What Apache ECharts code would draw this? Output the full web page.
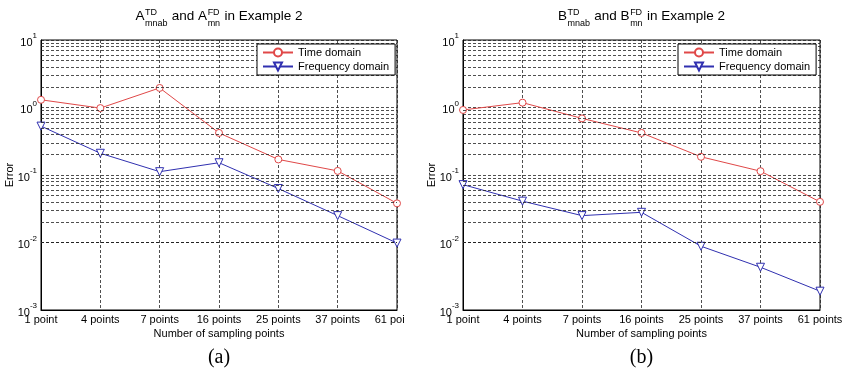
<!DOCTYPE html>
<html>
<head>
<meta charset="utf-8">
<script src="https://cdn.jsdelivr.net/npm/echarts@6/dist/echarts.min.js"></script>
<style>
  html, body { margin: 0; padding: 0; background: #fff; }
  #wrap { position: relative; width: 843px; height: 375px; overflow: hidden; background: #fff; }
  #ca { position: absolute; left: 0; top: 0; width: 405px; height: 375px; overflow: hidden; }
  #cb { position: absolute; left: 421px; top: 0; width: 422px; height: 375px; overflow: hidden; background: #fff; }
</style>
</head>
<body>
<div id="wrap"><div id="ca"></div><div id="cb"></div></div>
<script>
// ---- data ----
const categories = ['1 point', '4 points', '7 points', '16 points', '25 points', '37 points', '61 points'];
const timeA = [1.3, 0.98, 1.95, 0.42, 0.17, 0.115, 0.038];
const freqA = [0.53, 0.21, 0.112, 0.152, 0.063, 0.025, 0.0098];
const timeB = [0.92, 1.18, 0.69, 0.42, 0.186, 0.114, 0.040];
const freqB = [0.072, 0.041, 0.025, 0.028, 0.0088, 0.0043, 0.0019];
const seriesNames = ['Time domain', 'Frequency domain'];
const yMin = 0.001, yMax = 10;
const minorTicks = [
  0.002, 0.003, 0.004, 0.005, 0.006, 0.007, 0.008, 0.009,
  0.02, 0.03, 0.04, 0.05, 0.06, 0.07, 0.08, 0.09,
  0.2, 0.3, 0.4, 0.5, 0.6, 0.7, 0.8, 0.9,
  2, 3, 4, 5, 6, 7, 8, 9
];
const titleA = [['A'], ['TD', 'mnab'], [' and A'], ['FD', 'mn'], [' in Example 2']];
const titleB = [['B'], ['TD', 'mnab'], [' and B'], ['FD', 'mn'], [' in Example 2']];
const xName = 'Number of sampling points';
const yName = 'Error';

const FONT = '"Liberation Sans", Arial, sans-serif';
const RED = '#e04848';
const BLUE = '#3030b0';
const GRIDC = '#222';

const mctx = document.createElement('canvas').getContext('2d');
function tw(t, size) { mctx.font = size + 'px ' + FONT; return mctx.measureText(t).width; }

function titleGraphic(parts, cx) {
  const main = 13.5, small = 9;
  let total = 0;
  parts.forEach(p => {
    if (p.length === 1) total += tw(p[0], main);
    else total += Math.max(tw(p[0], small), tw(p[1], small)) + 1;
  });
  let x = cx - total / 2;
  const els = [];
  parts.forEach(p => {
    if (p.length === 1) {
      els.push({ type: 'text', style: { text: p[0], x: x, y: 9, font: main + 'px ' + FONT, fill: '#000', textVerticalAlign: 'top', verticalAlign: 'top' } });
      x += tw(p[0], main);
    } else {
      els.push({ type: 'text', style: { text: p[0], x: x + 0.5, y: 8, font: small + 'px ' + FONT, fill: '#000', textVerticalAlign: 'top', verticalAlign: 'top' } });
      els.push({ type: 'text', style: { text: p[1], x: x + 0.5, y: 19, font: small + 'px ' + FONT, fill: '#000', textVerticalAlign: 'top', verticalAlign: 'top' } });
      x += Math.max(tw(p[0], small), tw(p[1], small)) + 1;
    }
  });
  return els;
}

function makeOption(tData, fData, titleParts, grid, label) {
  const cx = grid.left + (grid.plotW) / 2;
  const dotted = { color: GRIDC, width: 0.8, type: [3, 2] };
  return {
    animation: false,
    backgroundColor: '#fff',
    grid: {
      left: grid.left, right: grid.right, top: 40, bottom: 65,
      containLabel: false, outerBoundsMode: 'none',
      show: true, borderColor: '#000', borderWidth: 1, backgroundColor: 'transparent'
    },
    legend: {
      orient: 'vertical',
      left: grid.legendLeft, top: 44,
      data: seriesNames,
      backgroundColor: '#fff', borderColor: '#000', borderWidth: 1,
      padding: [3, 6, 3, 5], itemGap: 3, itemWidth: 30, itemHeight: 10,
      textStyle: { fontFamily: FONT, fontSize: 11, color: '#000' },
      z: 10
    },
    xAxis: {
      type: 'category', data: categories, boundaryGap: false,
      axisLine: { show: true, lineStyle: { color: '#000', width: 1 } },
      axisTick: { show: false },
      axisLabel: { interval: 0, color: '#000', fontFamily: FONT, fontSize: 11, margin: 4, hideOverlap: false, showMinLabel: true, showMaxLabel: true },
      splitLine: { show: true, lineStyle: dotted },
      name: xName, nameLocation: 'middle', nameGap: 18, nameMoveOverlap: false,
      nameTextStyle: { color: '#000', fontFamily: FONT, fontSize: 11 }
    },
    yAxis: {
      type: 'log', logBase: 10, min: yMin, max: yMax,
      axisLine: { show: true, lineStyle: { color: '#000', width: 1 } },
      axisTick: { show: false },
      axisLabel: {
        color: '#000', margin: 4,
        formatter: v => '{b|10}{s|' + Math.round(Math.log10(v)) + '}',
        rich: {
          b: { fontFamily: FONT, fontSize: 11, color: '#000', lineHeight: 16, verticalAlign: 'bottom' },
          s: { fontFamily: FONT, fontSize: 8, color: '#000', lineHeight: 10, verticalAlign: 'top' }
        }
      },
      splitLine: { show: true, lineStyle: dotted },
      name: yName, nameLocation: 'middle', nameGap: 26, nameRotate: 90, nameMoveOverlap: false,
      nameTextStyle: { color: '#000', fontFamily: FONT, fontSize: 11 }
    },
    graphic: titleGraphic(titleParts, cx).concat([
      { type: 'text', style: { text: label, x: cx, y: 358, font: '20px "Liberation Serif", "Times New Roman", serif', fill: '#000', textAlign: 'center', align: 'center', textVerticalAlign: 'middle', verticalAlign: 'middle' } }
    ]),
    series: [
      {
        name: seriesNames[0], type: 'line', data: tData,
        symbol: 'circle', symbolSize: 7, showAllSymbol: true,
        lineStyle: { color: RED, width: 1 },
        itemStyle: { color: '#fff', borderColor: RED, borderWidth: 1 },
        z: 3,
        markLine: {
          silent: true, symbol: ['none', 'none'], label: { show: false },
          lineStyle: dotted, animation: false,
          data: minorTicks.map(v => ({ yAxis: v }))
        }
      },
      {
        name: seriesNames[1], type: 'line', data: fData,
        symbol: 'triangle', symbolRotate: 180, symbolSize: 8, showAllSymbol: true,
        lineStyle: { color: BLUE, width: 1 },
        itemStyle: { color: '#fff', borderColor: BLUE, borderWidth: 1 },
        z: 3
      }
    ]
  };
}

const ca = echarts.init(document.getElementById('ca'), null, { renderer: 'canvas', width: 421, height: 375 });
ca.setOption(makeOption(timeA, freqA, titleA, { left: 41, right: 24, plotW: 356, legendLeft: 257 }, '(a)'));
const cb = echarts.init(document.getElementById('cb'), null, { renderer: 'canvas' });
cb.setOption(makeOption(timeB, freqB, titleB, { left: 42, right: 23, plotW: 357, legendLeft: 257 }, '(b)'));
</script>
</body>
</html>
